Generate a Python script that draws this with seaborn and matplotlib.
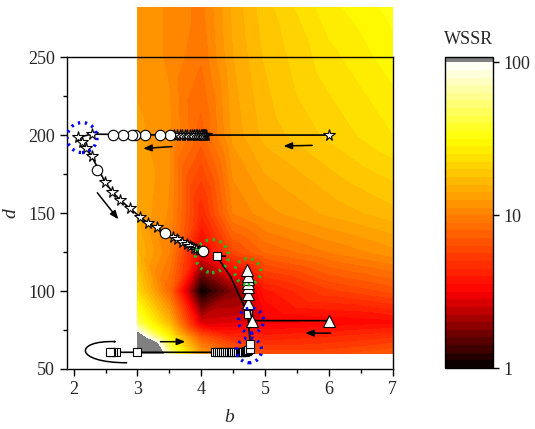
import numpy as np
import matplotlib
matplotlib.use("Agg")
import matplotlib.pyplot as plt
import matplotlib.tri as mtri
from matplotlib.colors import LinearSegmentedColormap
from matplotlib.patches import Ellipse, FancyArrowPatch
from matplotlib.path import Path
import seaborn as sns

# ---------------- data ----------------
# WSSR field on a coarse grid (b, d) -> WSSR value
grid_b = [3.0, 3.5, 4.0, 4.5, 5.0, 6.0, 7.0]
grid_d = [60, 70, 80, 100, 125, 150, 200, 250, 282]
wssr_rows = [  # one row per d (bottom to top), one value per b
    [800, 60, 13, 8, 6, 6, 7],            # d=60
    [150, 30, 7, 4.5, 4.2, 4.5, 5],       # d=70
    [45, 16, 2.6, 2.7, 3.0, 3.2, 3.4],    # d=80
    [22, 8, 1.0, 1.8, 3.8, 5.4, 6.5],     # d=100
    [16, 10, 3.0, 6, 8, 10, 12],          # d=125
    [14, 11, 4.5, 10, 12, 14.5, 17],      # d=150
    [13, 11.5, 7.5, 13, 16.5, 20.5, 25],  # d=200
    [12, 11, 9, 14, 18, 24, 30],          # d=250
    [12, 11, 9.5, 14.5, 19, 27, 33],      # d=282
]

# star trajectory
star_b = [6.0, 4.07, 4.06, 4.05, 4.04, 4.03, 4.01, 3.99, 3.97, 3.94, 3.91, 3.88, 3.85,
          3.82, 3.78, 3.74, 3.70, 3.66, 3.62, 3.58, 2.28, 2.07, 2.13, 2.20, 2.28, 2.49,
          2.60, 2.73, 2.88, 3.04, 3.17, 3.30, 3.56, 3.62, 3.70, 3.77, 3.83, 3.88, 3.92, 3.96]
star_d = [200, 200, 200, 200, 200, 200, 200, 200, 200, 200, 200, 200, 200,
          200, 200, 200, 200, 200, 200, 200, 200.6, 198.5, 195.7, 191.5, 186.5, 170,
          163.7, 158.3, 153, 147.6, 143.4, 140.8, 134.5, 133.5, 131.6, 130.3, 128.8, 127.6, 126.8, 126.2]

# circle trajectory
circ_b = [3.51, 3.36, 3.12, 2.96, 2.91, 2.78, 2.62, 2.36, 3.43, 4.03]
circ_d = [200, 200, 200, 200, 200, 200, 200, 177.6, 137.4, 125.6]

# square trajectory (last point: end of the short tail, no marker)
sq_b = [2.67, 2.61, 2.59, 2.57, 3.0, 4.22, 4.25, 4.28, 4.31, 4.34, 4.37, 4.40, 4.43, 4.46,
        4.49, 4.52, 4.55, 4.58, 4.60, 4.62, 4.64, 4.66, 4.68, 4.70, 4.72, 4.74, 4.76, 4.77,
        4.73, 4.46, 4.24, 4.38]
sq_d = [60.7, 60.7, 60.7, 60.7, 60.7, 60.7, 60.7, 60.7, 60.7, 60.7, 60.7, 60.7, 60.7, 60.7,
        60.7, 60.7, 60.7, 60.8, 60.8, 60.9, 61.0, 61.1, 61.2, 61.3, 61.5, 62.0, 63.0, 65.8,
        85.3, 109.2, 122.4, 122.4]
sq_marker = [True] * 29 + [False, True, False]

# triangle trajectory
tri_b = [6.01, 4.80, 4.74, 4.74, 4.73, 4.73, 4.73, 4.73, 4.72]
tri_d = [81, 81, 92.1, 98.1, 102.8, 105, 107.5, 109.6, 113.5]

# highlighted points (centre b, centre d, radius px, colour)
hl_b = [2.13, 4.78, 4.75, 4.17, 4.73]
hl_d = [198.4, 81, 62, 122.4, 112.4]
hl_r = [15, 12.5, 12.5, 16.5, 13]
hl_c = ["blue", "blue", "blue", "#22bb22", "#22bb22"]

# ---------------- style ----------------
sns.set_style("ticks")
plt.rcParams["font.family"] = ["Liberation Serif", "DejaVu Serif"]

fig = plt.figure(figsize=(5.35, 4.29), dpi=100)
ax = fig.add_axes([0.1247, 0.1399, 0.609, 0.727])

cmap = LinearSegmentedColormap.from_list(
    "wssr", [(0, "black"), (0.25, "red"), (0.75, "yellow"), (1, "white")])
cmap.set_over("#808080")

B, D = np.meshgrid(grid_b, grid_d)
W = np.log10(np.array(wssr_rows, dtype=float))
tri = mtri.Triangulation(B.ravel(), D.ravel())
levels = np.linspace(0, 2, 41)
cs = ax.tricontourf(tri, W.ravel(), levels=levels, cmap=cmap, extend="max", zorder=0)
cs.set_clip_on(False)

lw = 1.2
mew = 0.8
# trajectories
sns.lineplot(x=star_b, y=star_d, sort=False, estimator=None, ax=ax, color="black",
             lw=lw, marker="*", markersize=8.5, markerfacecolor="white",
             markeredgecolor="black", markeredgewidth=mew, zorder=4)
sns.lineplot(x=circ_b, y=circ_d, sort=False, estimator=None, ax=ax, color="black",
             lw=0, marker="o", markersize=7.5, markerfacecolor="white",
             markeredgecolor="black", markeredgewidth=mew, zorder=5)
sns.lineplot(x=sq_b, y=sq_d, sort=False, estimator=None, ax=ax, color="black",
             lw=lw, zorder=4)
mb = [b for b, m in zip(sq_b, sq_marker) if m]
md = [d for d, m in zip(sq_d, sq_marker) if m]
sns.lineplot(x=mb, y=md, sort=False, estimator=None, ax=ax, color="black",
             lw=0, marker="s", markersize=6.2, markerfacecolor="white",
             markeredgecolor="black", markeredgewidth=mew, zorder=5)
sns.lineplot(x=tri_b, y=tri_d, sort=False, estimator=None, ax=ax, color="black",
             lw=lw, marker="^", markersize=8, markerfacecolor="white",
             markeredgecolor="black", markeredgewidth=mew, zorder=5)

# highlight circles (ellipses in data units so they are round on screen)
px_per_b = 63.7
px_per_d = 1.56
for b, d, r, c in zip(hl_b, hl_d, hl_r, hl_c):
    ax.add_patch(Ellipse((b, d), 2 * r / px_per_b, 2 * r / px_per_d, fill=False,
                         edgecolor=c, lw=2.4, linestyle=(0, (0.7, 1.4)), zorder=6))

# arrows
def arrow(x0, y0, x1, y1):
    ax.annotate("", xy=(x1, y1), xytext=(x0, y0),
                arrowprops=dict(arrowstyle="-|>,head_length=0.5,head_width=0.2",
                                color="black", lw=1.1, shrinkA=0, shrinkB=0), zorder=7)

arrow(3.54, 192.6, 3.09, 191.4)
arrow(5.74, 193.4, 5.29, 193.0)
arrow(2.37, 163, 2.70, 146)
arrow(3.36, 67.5, 3.75, 67.5)
arrow(6.03, 73, 5.63, 73)

loop = Path([(2.83, 54.0), (2.00, 54.0), (2.00, 68.5), (2.68, 67.5)],
            [Path.MOVETO, Path.CURVE4, Path.CURVE4, Path.CURVE4])
ax.add_patch(FancyArrowPatch(path=loop, arrowstyle="-|>,head_length=0.5,head_width=0.2",
                             color="black", lw=1.1, shrinkA=0, shrinkB=0, zorder=7))

ax.set_xlim(1.89, 7.0)
ax.set_ylim(50, 250)
ax.set_xticks([2, 3, 4, 5, 6, 7])
ax.set_xticks(np.arange(2.5, 7, 1.0), minor=True)
ax.set_yticks([50, 100, 150, 200, 250])
ax.set_yticks([75, 125, 175, 225], minor=True)
ax.tick_params(which="major", direction="out", length=5, width=1, labelsize=13, color="black")
ax.tick_params(which="minor", direction="out", length=3, width=1, color="black")
for s in ax.spines.values():
    s.set_visible(True)
    s.set_color("black")
    s.set_linewidth(1.0)
    s.set_zorder(3)
ax.set_xlabel("b", fontsize=14, style="italic", labelpad=8)
ax.set_ylabel("d", fontsize=14, style="italic", labelpad=6)

# colorbar
cax = fig.add_axes([0.8318, 0.142, 0.0897, 0.725])
cb = fig.colorbar(cs, cax=cax, extend="max", extendrect=True, extendfrac=0.017)
cb.set_ticks([0, 1, 2])
cb.set_ticklabels(["1", "10", "100"])
cb.ax.tick_params(direction="out", length=4, width=1, labelsize=13, color="black")
cb.outline.set_edgecolor("black")
cb.outline.set_linewidth(1.0)
fig.text(0.8766, 0.907, "WSSR", ha="center", va="center", fontsize=13)

fig.savefig("out.png", dpi=100)
